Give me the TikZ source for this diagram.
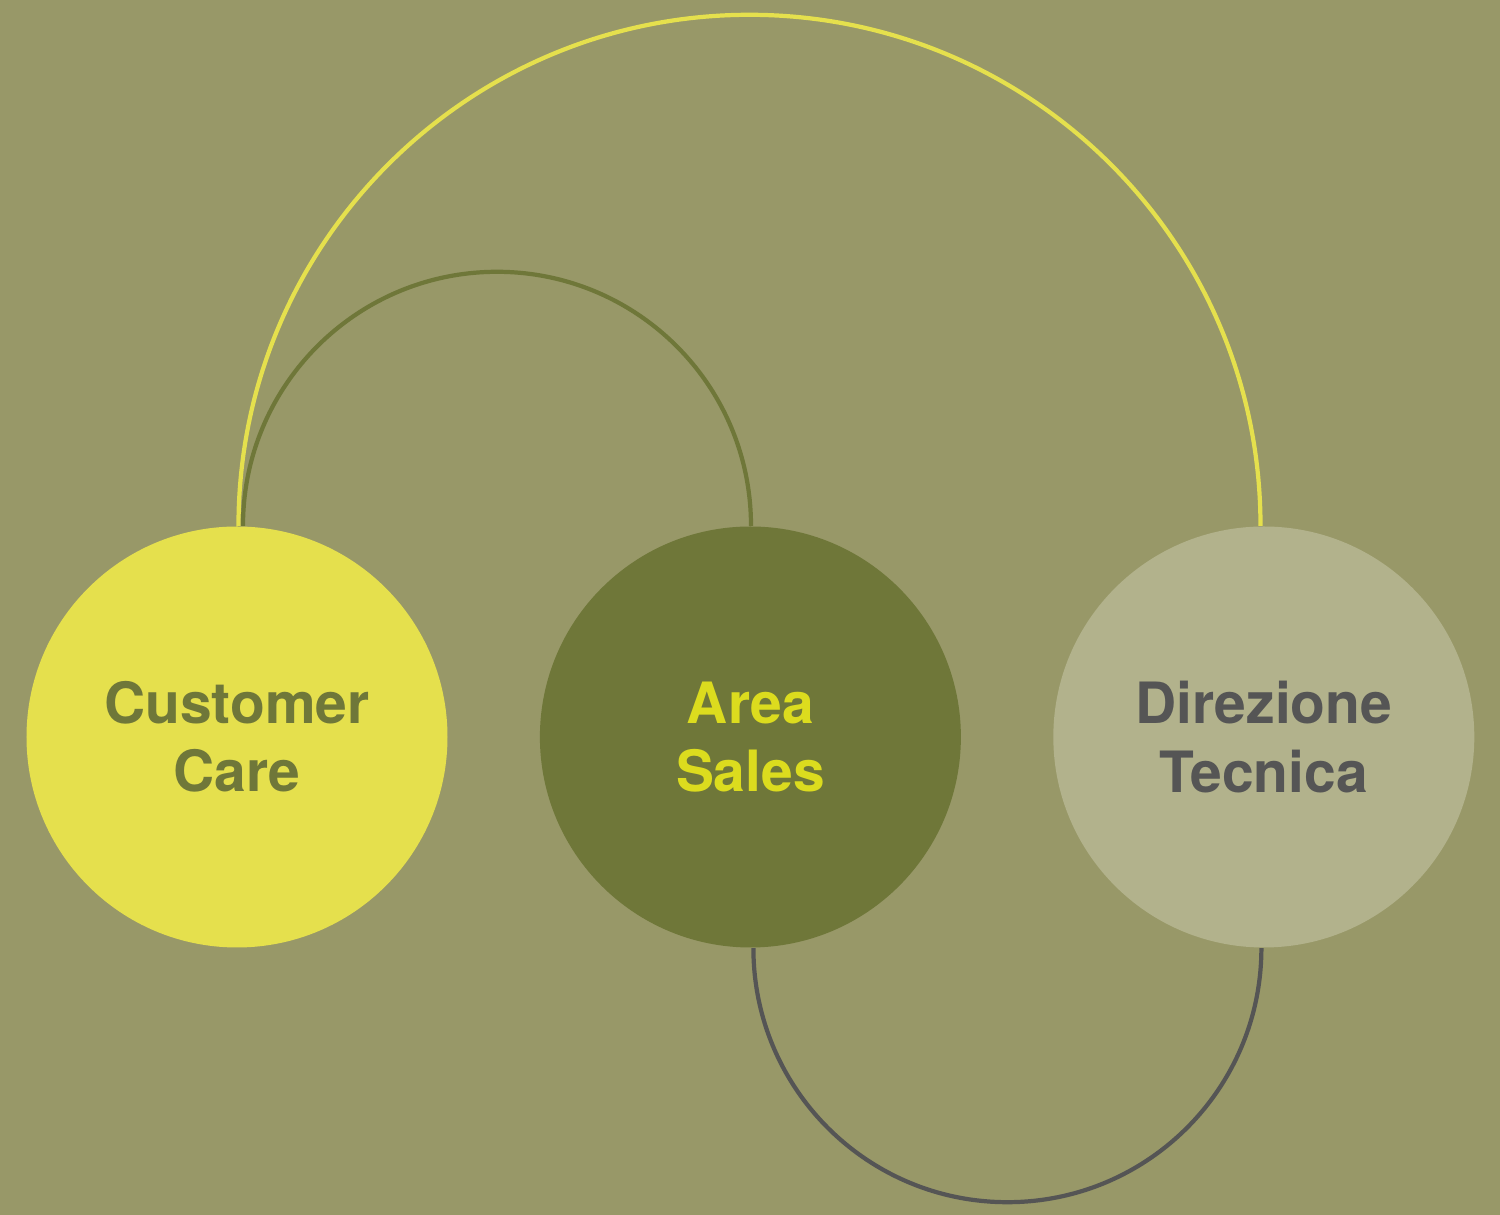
\documentclass[tikz,border=0pt]{standalone}
\usepackage{fontspec}
\setmainfont{TeX Gyre Heros}
\usetikzlibrary{positioning}
\definecolor{bgolive}{HTML}{989868}
\definecolor{ccyellow}{HTML}{E5E04D}
\definecolor{asolive}{HTML}{6F7739}
\definecolor{dtgray}{HTML}{B2B28C}
\definecolor{astext}{HTML}{DCDC1E}
\definecolor{dttext}{HTML}{555555}
\definecolor{arcgray}{HTML}{555555}

\begin{document}
\begin{tikzpicture}[every node/.style={circle,inner sep=0pt,minimum size=42.1mm,align=center,font=\bfseries\fontsize{16.2}{19.4}\selectfont},
  arcline/.style={line width=1.2pt}]
\fill[bgolive] (0,0) rectangle (15,12.15);
\useasboundingbox (0,0) rectangle (15,12.15);
\node[fill=ccyellow,text=asolive] (cc) at (2.37,4.78) {Customer\\Care};
\node[fill=asolive,text=astext,right=0.91cm of cc] (as) {Area\\Sales};
\node[fill=dtgray,text=dttext,right=0.91cm of as] (dt) {Direzione\\Tecnica};
\draw[arcline,ccyellow] ([xshift=0.15mm]cc.north) arc[start angle=180,end angle=0,radius=5.11cm];
\draw[arcline,asolive] ([xshift=0.6mm]cc.north) arc[start angle=180,end angle=0,radius=2.54cm];
\draw[arcline,arcgray] ([xshift=0.3mm]as.south) arc[start angle=180,end angle=360,radius=2.54cm];
\end{tikzpicture}
\end{document}
